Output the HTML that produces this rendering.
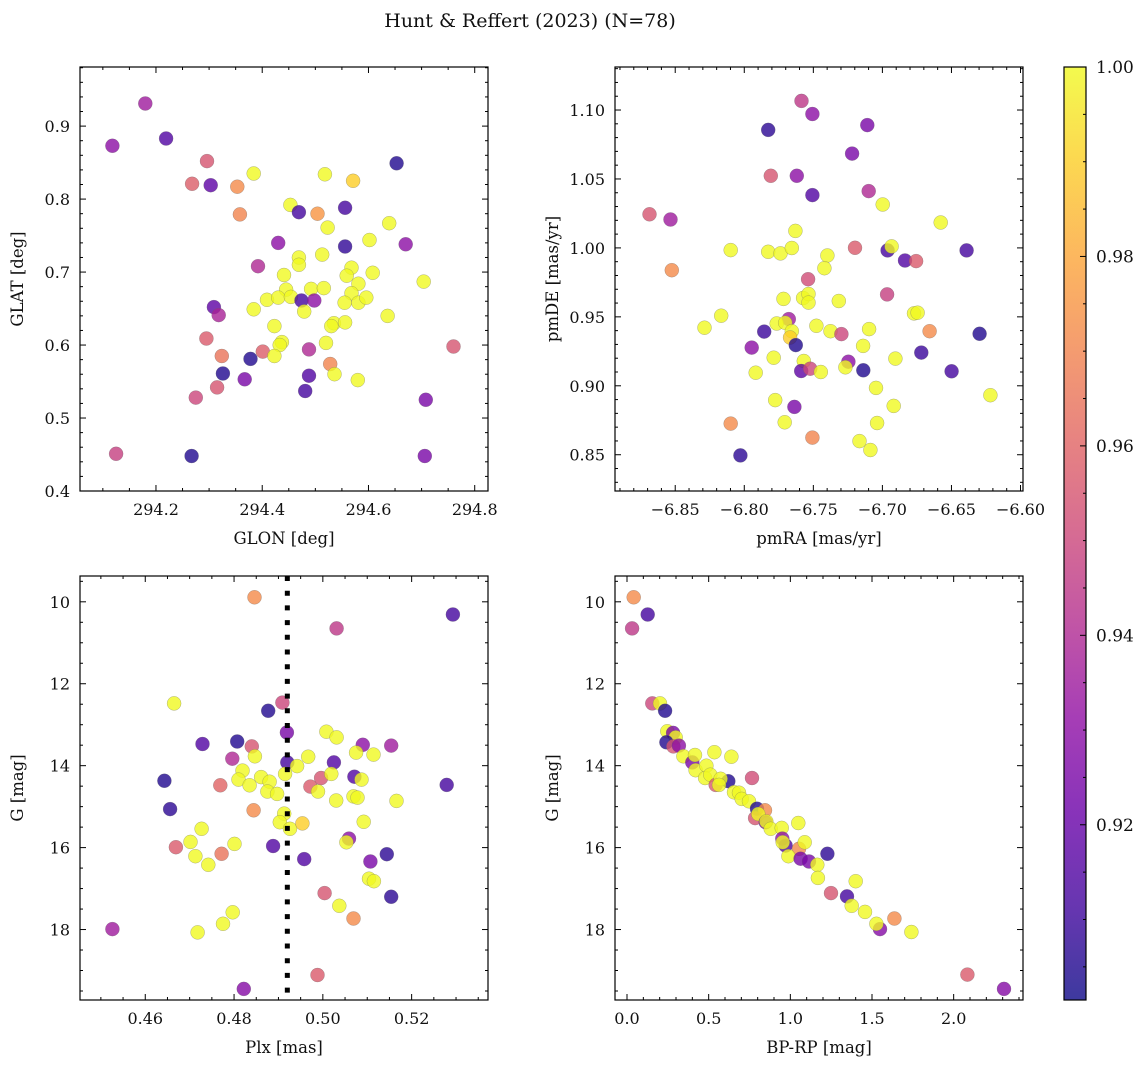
<!DOCTYPE html>
<html><head><meta charset="utf-8">
<style>
html,body{margin:0;padding:0;background:#fff;}
svg text{font-family:"DejaVu Serif","Liberation Serif",serif;fill:#111;}
</style></head>
<body>
<svg id="fig" width="1148" height="1067" viewBox="0 0 1148 1067" xmlns="http://www.w3.org/2000/svg">
<defs>
<linearGradient id="plasma" x1="0" y1="1" x2="0" y2="0">
<stop offset="0" stop-color="#0d0887"/><stop offset="0.1" stop-color="#41049d"/><stop offset="0.2" stop-color="#6a00a8"/><stop offset="0.3" stop-color="#8f0da4"/><stop offset="0.4" stop-color="#b12a90"/><stop offset="0.5" stop-color="#cc4778"/><stop offset="0.6" stop-color="#e16462"/><stop offset="0.7" stop-color="#f2844b"/><stop offset="0.8" stop-color="#fca636"/><stop offset="0.9" stop-color="#fcce25"/><stop offset="1" stop-color="#f0f921"/>
</linearGradient>
</defs>
<text x="530" y="27" text-anchor="middle" font-size="19">Hunt &amp; Reffert (2023) (N=78)</text>
<g id="root"></g>
</svg>
<script>
// ---- Panel 1: GLON / GLAT ----
const glon = [294.180,294.118,294.219,294.296,294.268,294.303,294.353,294.358,294.384,294.518,294.571,294.653,294.453,294.469,294.504,294.556,294.523,294.639,294.430,294.556,294.602,294.670,294.392,294.469,294.469,294.513,294.441,294.568,294.559,294.608,294.704,294.581,294.445,294.492,294.516,294.409,294.430,294.454,294.474,294.498,294.568,294.555,294.581,294.596,294.384,294.479,294.636,294.309,294.318,294.423,294.535,294.530,294.556,294.295,294.437,294.433,294.520,294.760,294.488,294.401,294.324,294.378,294.423,294.528,294.326,294.367,294.488,294.536,294.580,294.315,294.481,294.275,294.708,294.125,294.267,294.706];
const glat = [0.931,0.873,0.883,0.852,0.821,0.819,0.817,0.779,0.835,0.834,0.825,0.849,0.792,0.782,0.780,0.788,0.761,0.767,0.740,0.735,0.744,0.738,0.708,0.720,0.710,0.724,0.696,0.706,0.695,0.699,0.687,0.684,0.676,0.677,0.678,0.662,0.665,0.666,0.661,0.661,0.671,0.658,0.658,0.665,0.649,0.646,0.640,0.652,0.641,0.626,0.630,0.626,0.631,0.609,0.604,0.600,0.603,0.598,0.594,0.591,0.585,0.581,0.585,0.574,0.561,0.553,0.558,0.560,0.552,0.542,0.537,0.528,0.525,0.451,0.448,0.448];
const prob1 = [0.935,0.93,0.915,0.955,0.958,0.918,0.972,0.97,1,1,0.99,0.905,1,0.912,0.975,0.912,1,1,0.93,0.908,1,0.93,0.94,1,1,1,1,1,1,1,1,1,1,1,1,1,1,1,0.912,0.93,1,1,1,1,1,1,1,0.918,0.938,1,1,1,1,0.957,1,1,1,0.955,0.94,0.958,0.965,0.905,1,0.97,0.905,0.925,0.915,1,1,0.955,0.912,0.95,0.925,0.948,0.905,0.925];
// ---- Panel 2: pmRA / pmDE ----
const pmra = [-6.7586,-6.7507,-6.7827,-6.7109,-6.7219,-6.7808,-6.7620,-6.7507,-6.7099,-6.6998,-6.8686,-6.8534,-6.6578,-6.7630,-6.8098,-6.7827,-6.7738,-6.7656,-6.7198,-6.6962,-6.6933,-6.6836,-6.6756,-6.6390,-6.8525,-6.7398,-6.7420,-6.7538,-6.6966,-6.7716,-6.7574,-6.7535,-6.7535,-6.7316,-6.8167,-6.8288,-6.6771,-6.6745,-6.7678,-6.7765,-6.7704,-6.7656,-6.7668,-6.7478,-6.7376,-6.7297,-6.7096,-6.6658,-6.6296,-6.7856,-6.7946,-6.7627,-6.7140,-6.6718,-6.7787,-6.7569,-6.7246,-6.6906,-6.7917,-6.7588,-6.7523,-6.7446,-6.7268,-6.7138,-6.6499,-6.7046,-6.6218,-6.7776,-6.7637,-6.6918,-6.8098,-6.7707,-6.7038,-6.7507,-6.7166,-6.7087,-6.8028];
const pmde = [1.1066,1.0971,1.0856,1.0891,1.0684,1.0523,1.0523,1.0383,1.0412,1.0315,1.0244,1.0206,1.0184,1.0123,0.9984,0.9972,0.9960,0.9999,1.0001,0.9982,1.0011,0.9909,0.9904,0.9982,0.9838,0.9945,0.9853,0.9773,0.9663,0.9630,0.9637,0.9666,0.9603,0.9615,0.9508,0.9421,0.9525,0.9530,0.9484,0.9452,0.9457,0.9396,0.9350,0.9435,0.9396,0.9375,0.9411,0.9396,0.9377,0.9393,0.9277,0.9295,0.9289,0.9241,0.9204,0.9180,0.9175,0.9197,0.9095,0.9107,0.9124,0.9100,0.9134,0.9112,0.9105,0.8985,0.8932,0.8896,0.8847,0.8854,0.8726,0.8735,0.8730,0.8624,0.8599,0.8534,0.8495];
const prob2 = [0.945,0.93,0.907,0.925,0.925,0.955,0.93,0.915,0.94,1,0.955,0.935,1,1,1,1,1,1,0.957,0.912,1,0.915,0.957,0.912,0.972,1,1,0.952,0.948,1,1,1,1,1,1,1,1,1,0.935,1,1,1,0.99,1,1,0.95,1,0.972,0.905,0.91,0.93,0.905,1,0.91,1,1,0.93,1,1,0.918,0.95,1,1,0.905,0.912,1,1,1,0.925,1,0.972,1,1,0.97,1,1,0.907];
// ---- Panel 3: Plx / G ----
const plx = [0.4846,0.5293,0.5031,0.4665,0.4909,0.4877,0.4919,0.5008,0.5031,0.4729,0.4807,0.4840,0.5090,0.5154,0.4796,0.4847,0.4967,0.5075,0.5114,0.4920,0.4942,0.5025,0.4819,0.4915,0.4643,0.4769,0.4810,0.4835,0.4861,0.4880,0.4875,0.4897,0.4972,0.4996,0.4989,0.5019,0.5071,0.5087,0.5030,0.5069,0.5078,0.5166,0.5279,0.4656,0.4844,0.4913,0.4903,0.4926,0.4954,0.5092,0.4727,0.4702,0.4669,0.4801,0.4713,0.4772,0.4742,0.4888,0.5059,0.5053,0.4958,0.5107,0.5144,0.5104,0.5115,0.5004,0.5154,0.5037,0.5069,0.4797,0.4775,0.4718,0.4526,0.4988,0.4822];
const gmag3 = [9.89,10.31,10.65,12.48,12.46,12.66,13.19,13.17,13.31,13.47,13.41,13.53,13.49,13.51,13.83,13.77,13.78,13.68,13.73,13.92,14.01,13.92,14.12,14.20,14.37,14.48,14.34,14.48,14.28,14.39,14.63,14.69,14.51,14.30,14.63,14.20,14.27,14.34,14.85,14.75,14.78,14.86,14.47,15.06,15.09,15.17,15.38,15.54,15.41,15.37,15.54,15.86,15.99,15.91,16.21,16.15,16.42,15.96,15.78,15.87,16.28,16.34,16.16,16.76,16.82,17.11,17.20,17.42,17.73,17.58,17.86,18.07,17.99,19.11,19.45];
const prob3 = [0.972,0.912,0.945,1,0.95,0.905,0.925,1,1,0.915,0.905,0.955,0.93,0.935,0.94,1,1,1,1,0.912,1,0.915,1,1,0.905,0.96,1,1,1,1,1,1,0.957,0.955,1,1,0.915,1,1,1,1,1,0.912,0.907,0.972,1,1,1,0.99,1,1,1,0.957,1,1,0.965,1,0.915,0.93,1,0.915,0.925,0.907,1,1,0.955,0.907,1,0.972,1,1,1,0.935,0.957,0.928];
const plxRef = [0.492];
// ---- Panel 4: BP-RP / G ----
const bprp = [0.041,0.127,0.031,0.155,0.202,0.233,0.247,0.282,0.298,0.241,0.284,0.318,0.345,0.400,0.416,0.535,0.639,0.420,0.486,0.478,0.510,0.543,0.620,0.573,0.563,0.765,0.655,0.686,0.702,0.747,0.796,0.845,0.784,0.804,0.849,0.853,0.880,0.947,1.049,0.951,0.971,0.953,1.053,0.988,1.063,1.114,1.088,1.165,1.227,1.169,1.400,1.249,1.347,1.376,1.457,1.549,1.527,1.637,1.741,2.084,2.308];
const gmag4 = [9.89,10.31,10.65,12.48,12.48,12.66,13.16,13.20,13.31,13.43,13.53,13.51,13.77,13.92,13.74,13.67,13.78,14.11,14.00,14.30,14.22,14.47,14.38,14.32,14.47,14.30,14.65,14.66,14.81,14.87,15.05,15.09,15.28,15.18,15.38,15.36,15.54,15.52,15.40,15.78,15.95,15.87,16.03,16.21,16.27,16.34,15.87,16.42,16.15,16.74,16.82,17.11,17.19,17.42,17.57,17.99,17.86,17.73,18.06,19.10,19.45];
const prob4 = [0.972,0.912,0.945,0.95,1,0.905,1,0.925,1,0.905,0.955,0.93,1,0.925,1,1,1,1,1,1,1,0.957,0.905,1,1,0.952,1,1,1,1,0.905,0.972,0.955,1,0.925,1,1,1,1,0.93,0.915,1,0.972,1,0.925,0.925,1,1,0.907,1,1,0.955,0.912,1,1,0.928,1,0.972,1,0.957,0.928];
// ---- Colorbar ----
const cbTicks = [0.92,0.94,0.96,0.98,1.00];
const cbRange = [0.9015,1.0];

const NS='http://www.w3.org/2000/svg';
const root=document.getElementById('root');
function mk(tag,attrs,parent){const e=document.createElementNS(NS,tag);for(const k in attrs)e.setAttribute(k,attrs[k]);(parent||root).appendChild(e);return e;}
const stops=[[0,13,8,135],[0.1,65,4,157],[0.2,106,0,168],[0.3,143,13,164],[0.4,177,42,144],[0.5,204,71,120],[0.6,225,100,98],[0.7,242,132,75],[0.8,252,166,54],[0.9,252,206,37],[1,240,249,33]];
function plasma(t){t=Math.max(0,Math.min(1,t));for(let i=1;i<stops.length;i++){if(t<=stops[i][0]){const a=stops[i-1],b=stops[i];const f=(t-a[0])/(b[0]-a[0]);return 'rgb('+[1,2,3].map(j=>Math.round(a[j]+(b[j]-a[j])*f)).join(',')+')';}}return 'rgb(240,249,33)';}
function fmt(v,d){const s=v.toFixed(d);return v<0?'\u2212'+s.slice(1):s;}

function panel(name,box,xd,yd,xmaj,xmin,xdec,ymaj,ymin,ydec,xlabel,ylabel,xs,ys,cs){
  const [L,T,R,B]=box;
  const g=mk('g',{});
  
  
  const sx=v=>L+(v-xd[0])/(xd[1]-xd[0])*(R-L);
  const sy=v=>yd[2]?T+(v-yd[0])/(yd[1]-yd[0])*(B-T):B-(v-yd[0])/(yd[1]-yd[0])*(B-T);
  const clip='clip-'+name;
  const cp=mk('clipPath',{id:clip},g);mk('rect',{x:L,y:T,width:R-L,height:B-T},cp);
  const pts=mk('g',{'clip-path':'url(#'+clip+')'},g);
  for(let i=0;i<xs.length;i++){
    const c=mk('circle',{cx:sx(xs[i]).toFixed(1),cy:sy(ys[i]).toFixed(1),r:7,fill:plasma((cs[i]-cbRange[0])/(cbRange[1]-cbRange[0])),'fill-opacity':0.8,stroke:'#666','stroke-opacity':0.5,'stroke-width':0.5},pts);
    
    
  }
  const tk=mk('g',{stroke:'#000','stroke-width':1},g);
  const eps=1e-9;
  let k0=Math.ceil((xd[0]-eps)/xmin), k1=Math.floor((xd[1]+eps)/xmin);
  for(let k=k0;k<=k1;k++){const v=k*xmin;const isMaj=Math.abs(v/xmaj-Math.round(v/xmaj))<1e-6;const x=sx(v);const len=isMaj?6:3;
    mk('line',{x1:x,y1:B,x2:x,y2:B-len},tk);mk('line',{x1:x,y1:T,x2:x,y2:T+len},tk);
    if(isMaj){const t=mk('text',{x:x,y:B+24,'text-anchor':'middle','font-size':16,stroke:'none'},g);t.textContent=fmt(v,xdec);}}
  const ylo=Math.min(yd[0],yd[1]),yhi=Math.max(yd[0],yd[1]);
  k0=Math.ceil((ylo-eps)/ymin);k1=Math.floor((yhi+eps)/ymin);
  for(let k=k0;k<=k1;k++){const v=k*ymin;const isMaj=Math.abs(v/ymaj-Math.round(v/ymaj))<1e-6;const y=sy(v);const len=isMaj?6:3;
    mk('line',{x1:L,y1:y,x2:L+len,y2:y},tk);mk('line',{x1:R,y1:y,x2:R-len,y2:y},tk);
    if(isMaj){const t=mk('text',{x:L-10,y:y+6,'text-anchor':'end','font-size':16,stroke:'none'},g);t.textContent=fmt(v,ydec);}}
  const fr=mk('rect',{x:L,y:T,width:R-L,height:B-T,fill:'none',stroke:'#000','stroke-width':1.2},g);
  
  const xl=mk('text',{x:(L+R)/2,y:B+53,'text-anchor':'middle','font-size':16.5},g);xl.textContent=xlabel;
  
  const yl=mk('text',{x:0,y:0,'text-anchor':'middle','font-size':16.5,transform:'translate('+(L-57)+','+((T+B)/2)+') rotate(-90)'},g);yl.textContent=ylabel;
  
  return {sx,sy,g};
}

panel('glon-glat-panel',[80,67,488,491],[294.057,294.825],[0.4,0.981],0.2,0.05,1,0.1,0.02,1,'GLON [deg]','GLAT [deg]',glon,glat,prob1);
panel('pmra-pmde-panel',[615,67,1023,491],[-6.8936,-6.5982],[0.8237,1.1312],0.05,0.01,2,0.05,0.01,2,'pmRA [mas/yr]','pmDE [mas/yr]',pmra,pmde,prob2);
const p3=panel('plx-g-panel',[80,576,488,1000],[0.4453,0.5372],[9.37,19.72,true],0.02,0.005,2,2,0.5,0,'Plx [mas]','G [mag]',plx,gmag3,prob3);
const ref=mk('line',{x1:p3.sx(plxRef[0]),y1:576,x2:p3.sx(plxRef[0]),y2:1000,stroke:'#000','stroke-width':5,'stroke-dasharray':'5,9.7'});


panel('bprp-g-panel',[615,576,1023,1000],[-0.0735,2.4245],[9.37,19.72,true],0.5,0.1,1,2,0.5,0,'BP-RP [mag]','G [mag]',bprp,gmag4,prob4);

const cb=mk('g',{});


const CT=67,CB=1000,CL=1064,CR=1086;
mk('rect',{x:CL,y:CT,width:CR-CL,height:CB-CT,fill:'url(#plasma)','fill-opacity':0.8},cb);
mk('rect',{x:CL,y:CT,width:CR-CL,height:CB-CT,fill:'none',stroke:'#000','stroke-width':1.2},cb);
const cy=v=>CB-(v-cbRange[0])/(cbRange[1]-cbRange[0])*(CB-CT);
for(let k=Math.ceil(cbRange[0]/0.005-1e-6);k<=Math.floor(cbRange[1]/0.005+1e-6);k++){const v=k*0.005;const y=cy(v);const maj=Math.abs(v/0.02-Math.round(v/0.02))<1e-6;mk('line',{x1:CR,y1:y,x2:CR-(maj?6:3),y2:y,stroke:'#000','stroke-width':1},cb);}
cbTicks.forEach(v=>{const t=mk('text',{x:CR+10,y:cy(v)+6,'font-size':17},cb);t.textContent=v.toFixed(2);
  
  });
</script>
</body></html>
